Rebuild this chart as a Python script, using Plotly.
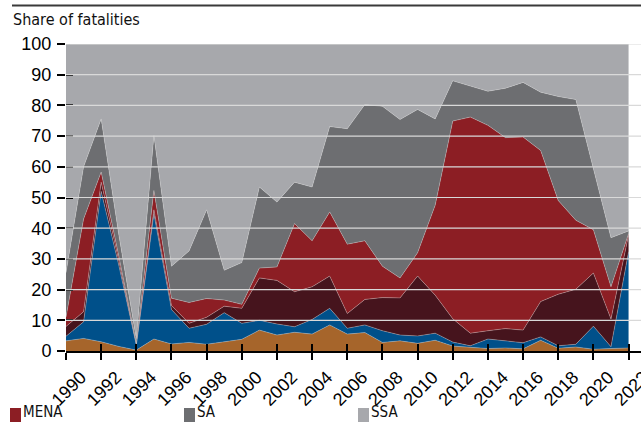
import plotly.graph_objects as go

# Share of fatalities by region (percent)
years = list(range(1990, 2023))

lac = [3.3, 4.1, 3.0, 1.5, 0.3, 3.9, 2.3, 2.8, 2.2, 3.0, 3.8, 6.8, 5.2, 6.1, 5.5, 8.5, 5.5,
       6.0, 2.8, 3.3, 2.5, 3.5, 1.6, 1.2, 0.8, 1.0, 0.7, 3.5, 0.9, 1.3, 0.6, 0.8, 1.0]
eca = [1.5, 5.4, 49.0, 26.5, 1.7, 40.8, 11.2, 4.6, 6.5, 9.5, 5.2, 3.2, 3.6, 1.8, 4.8, 5.4, 1.9,
       2.5, 3.8, 1.9, 2.4, 2.3, 1.3, 0.5, 3.1, 2.3, 2.0, 1.1, 0.8, 0.9, 7.5, 0.6, 31.3]
eap = [3.2, 3.3, 3.0, 1.5, 0.2, 1.3, 1.3, 1.6, 2.3, 2.1, 4.9, 13.8, 14.2, 11.4, 10.6, 10.5, 4.8,
       8.3, 10.8, 12.1, 19.5, 12.4, 7.6, 4.1, 2.7, 4.0, 4.1, 11.5, 16.8, 17.9, 17.3, 9.0, 5.4]
mena = [3.0, 30.2, 3.3, 1.5, 0.3, 6.3, 2.4, 6.8, 6.1, 2.0, 1.3, 3.2, 4.4, 22.2, 15.0, 20.9, 22.6,
        19.1, 10.2, 6.5, 7.6, 29.3, 64.4, 70.4, 66.9, 62.2, 62.9, 49.2, 30.5, 22.5, 14.1, 10.5, 0.5]
sa = [14.5, 17.0, 17.3, 7.0, 1.5, 17.9, 10.4, 16.8, 28.9, 9.7, 13.6, 26.4, 21.1, 13.5, 17.5, 27.8, 37.6,
      44.4, 52.1, 51.6, 46.7, 28.1, 13.1, 10.0, 11.1, 16.1, 17.8, 19.0, 33.9, 39.3, 19.9, 16.0, 0.9]
ssa = [74.5, 40.0, 24.4, 62.0, 96.0, 29.8, 72.4, 67.4, 54.0, 73.7, 71.2, 46.6, 51.5, 45.0, 46.6, 26.9, 27.6,
       19.7, 20.3, 24.6, 21.3, 24.4, 12.0, 13.8, 15.4, 14.4, 12.5, 15.7, 17.1, 18.1, 40.6, 63.1, 60.9]

series = [
    ("LAC", lac, "#a6652b"),
    ("ECA", eca, "#00508a"),
    ("EAP", eap, "#46141d"),
    ("MENA", mena, "#8c1e24"),
    ("SA", sa, "#6d6e71"),
    ("SSA", ssa, "#a7a8ac"),
]
legend_items = [("MENA", "#8c1e24"), ("SA", "#6d6e71"), ("SSA", "#a7a8ac")]

num_font = "Liberation Sans, Arial, sans-serif"
cond_font = "Liberation Sans Narrow, DejaVu Sans Condensed, sans-serif"

fig = go.Figure()
for name, vals, col in series:
    fig.add_trace(go.Scatter(
        x=years, y=vals, name=name, mode="lines",
        stackgroup="one",
        line=dict(width=0.6, color="rgba(215,215,215,0.55)"),
        fillcolor=col,
        showlegend=False,
        hovertemplate=name + " %{x}: %{y:.1f}<extra></extra>",
    ))

# empty trace so the overlay axes (inside ticks) get drawn
fig.add_trace(go.Scatter(x=[], y=[], xaxis="x2", yaxis="y2", showlegend=False))

W, H = 641, 423
ml, mr, mt, mb = 66, 0, 44, 72
pw, ph = W - ml - mr, H - mt - mb
x_end = 1990 + pw / 17.58


def px(x):
    return (x - ml) / pw


def py(y):
    return (H - mb - y) / ph


shapes = []
# gridlines drawn on top of the areas
for v in range(10, 101, 10):
    shapes.append(dict(type="line", xref="paper", yref="y", x0=0, x1=1, y0=v, y1=v,
                       line=dict(color="#d9d9d9", width=1.2), layer="above"))
# rule under the (cut-off) title
shapes.append(dict(type="rect", xref="paper", yref="paper", x0=px(12), x1=1,
                   y0=py(6.5), y1=py(4.5), fillcolor="#3a3a3a", line=dict(width=0)))

annotations = [dict(text="Share of fatalities", xref="paper", yref="paper", x=px(11), y=py(20),
                    xanchor="left", yanchor="middle", showarrow=False,
                    font=dict(family=cond_font, size=16, color="#111111"))]

leg_x = [10, 184, 358]
for (name, col), lx in zip(legend_items, leg_x):
    shapes.append(dict(type="rect", xref="paper", yref="paper", x0=px(lx), x1=px(lx + 11),
                       y0=py(422), y1=py(408), fillcolor=col, line=dict(width=0)))
    annotations.append(dict(text=name, xref="paper", yref="paper", x=px(lx + 12), y=py(422.5),
                            xanchor="left", yanchor="bottom", showarrow=False, borderpad=0,
                            font=dict(family=cond_font, size=15, color="#111111")))

fig.update_layout(
    width=W, height=H,
    margin=dict(l=ml, r=mr, t=mt, b=mb, autoexpand=False),
    paper_bgcolor="white", plot_bgcolor="white",
    shapes=shapes, annotations=annotations,
    showlegend=False,
    xaxis=dict(range=[1990, x_end], tickmode="array", tickvals=list(range(1990, 2023, 2)),
               tickangle=-45, ticks="outside", ticklen=7, tickwidth=1.5, tickcolor="black",
               ticklabelshift=15, ticklabeloverflow="allow", showgrid=False, zeroline=False,
               automargin=False, showline=True, linecolor="black", linewidth=1.5,
               tickfont=dict(family=num_font, size=18, color="black")),
    yaxis=dict(range=[0, 100], tickvals=list(range(0, 101, 10)), ticks="outside", ticklen=8,
               tickwidth=1.5, tickcolor="black", showgrid=False, zeroline=False, showline=False,
               automargin=False, ticklabelstandoff=2,
               tickfont=dict(family=num_font, size=18, color="black")),
    xaxis2=dict(overlaying="x", anchor="y2", range=[1990, x_end], tickmode="array",
                tickvals=list(range(1990, 2023, 2)), ticks="inside", ticklen=7, tickwidth=1.5,
                tickcolor="black", showticklabels=False, showgrid=False, zeroline=False,
                side="bottom", automargin=False),
    yaxis2=dict(overlaying="y", anchor="x2", range=[0, 100], tickvals=list(range(0, 101, 10)),
                ticks="inside", ticklen=7, tickwidth=1.5, tickcolor="black", showticklabels=False,
                showgrid=False, zeroline=False, side="left", automargin=False),
)

# drop the browser's default body margin so the figure sits at the page corner
fig.write_html("out.html", config={"displayModeBar": False},
               post_script="document.body.style.margin='0';")
